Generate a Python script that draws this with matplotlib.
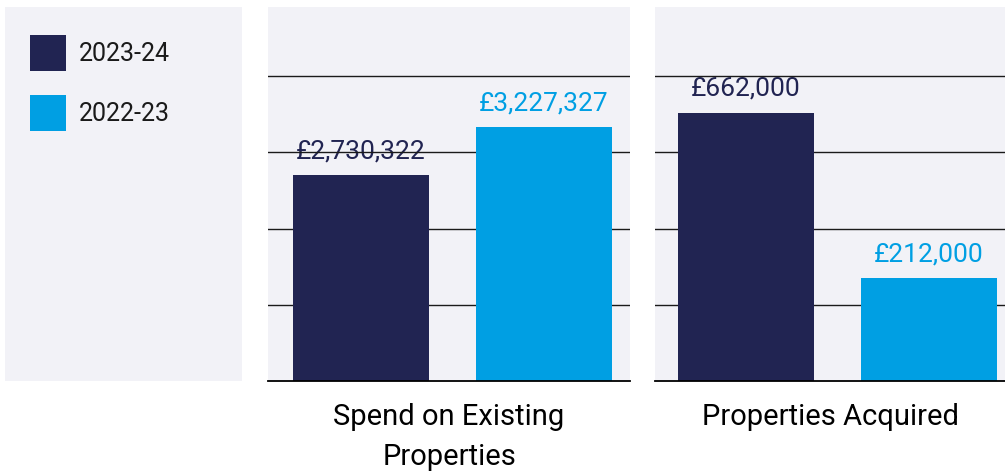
import matplotlib.pyplot as plt
from matplotlib.patches import Patch

series = ['2023-24', '2022-23']
colors = ['#212452', '#009fe3']
bg = '#f2f2f7'

spend_label = 'Spend on Existing\nProperties'
spend_values = [2730322, 3227327]        # printed values
spend_heights = [2.70, 3.33]

acq_label = 'Properties Acquired'
acq_values = [662000, 212000]
acq_heights = [3.52, 1.35]

plt.rcParams['font.family'] = ['Roboto', 'DejaVu Sans']

fig = plt.figure(figsize=(10.05, 4.76), dpi=100)
bottom, height = 95/476, 374/476

# legend panel
lax = fig.add_axes([5/1005, bottom, 237/1005, height])
lax.set_facecolor(bg)
lax.set_xticks([]); lax.set_yticks([])
for s in lax.spines.values():
    s.set_visible(False)
handles = [Patch(facecolor=c, edgecolor='none', label=n) for c, n in zip(colors, series)]
lax.legend(handles=handles, loc='upper left', bbox_to_anchor=(0.105, 0.925),
           frameon=False, fontsize=18, handlelength=1.44, handleheight=1.84,
           handletextpad=0.52, labelspacing=0.96, borderpad=0, borderaxespad=0,
           labelcolor='#1a1a1a')

def panel(rect, heights, values, label, xlim):
    ax = fig.add_axes(rect)
    ax.set_facecolor(bg)
    x = [0, 1]
    bars = ax.bar(x, heights, width=0.743, color=colors, zorder=2)
    ax.set_xlim(*xlim)
    ax.set_ylim(0, 4.905)
    ax.set_yticks([1, 2, 3, 4])
    ax.yaxis.grid(True, color='#1a1a1a', linewidth=1.0, zorder=1)
    ax.set_axisbelow(True)
    ax.tick_params(left=False, labelleft=False, bottom=False, labelbottom=False)
    for k in ['top', 'left', 'right']:
        ax.spines[k].set_visible(False)
    ax.spines['bottom'].set_color('black')
    ax.spines['bottom'].set_linewidth(1.3)
    for b, v, c in zip(bars, values, colors):
        ax.annotate('£{:,}'.format(v), (b.get_x() + b.get_width()/2, b.get_height()),
                    xytext=(0, 17), textcoords='offset points',
                    ha='center', va='center', fontsize=19, color=c, zorder=0)
    ax.set_xlabel(label, fontsize=21, linespacing=1.55, labelpad=16, color='black')
    return ax

panel([268/1005, bottom, 362/1005, height], spend_heights, spend_values, spend_label, (-0.508, 1.470))
panel([655/1005, bottom, 350/1005, height], acq_heights, acq_values, acq_label, (-0.497, 1.415))

fig.savefig('out.png', dpi=100)
